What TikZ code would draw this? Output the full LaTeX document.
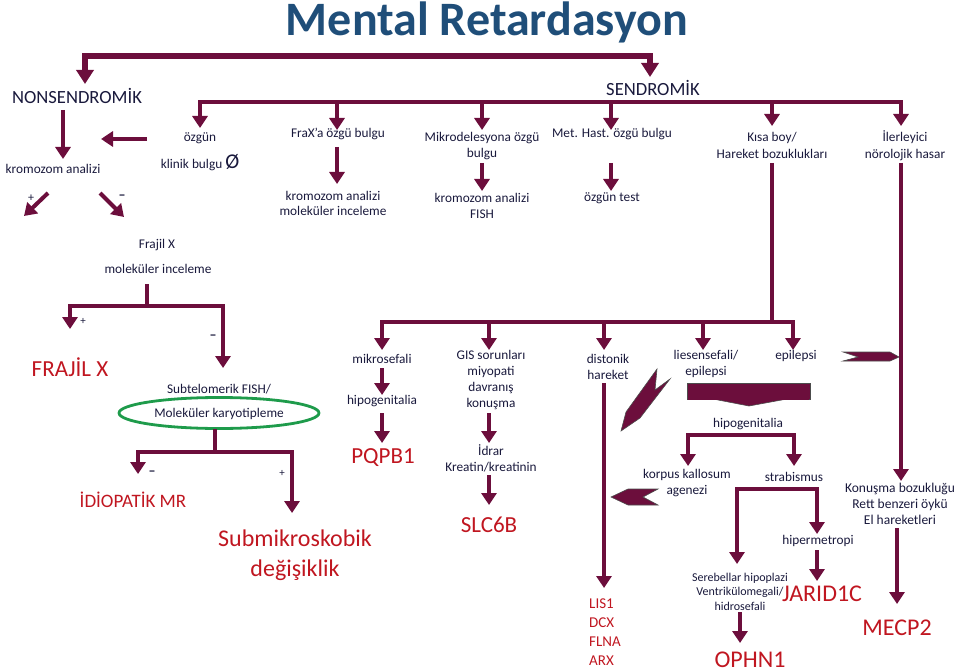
\documentclass[tikz,border=0pt]{standalone}
\usepackage{fontspec}
\setmainfont{Carlito}
\usetikzlibrary{arrows.meta,shapes.geometric}
\definecolor{arrc}{RGB}{108,14,60}
\definecolor{txtc}{RGB}{25,25,60}
\definecolor{genc}{RGB}{192,22,32}
\definecolor{ttlc}{RGB}{31,78,121}
\definecolor{ellc}{RGB}{30,155,75}
\tikzset{
  t/.style={font=\fontsize{13.3}{16}\selectfont, text=txtc, inner sep=0pt, align=center},
  tsm/.style={font=\fontsize{12}{14.5}\selectfont, text=txtc, inner sep=0pt, align=center},
  hd/.style={font=\fontsize{18.6}{20}\selectfont, text=txtc, inner sep=0pt},
  gen/.style={font=\fontsize{23}{30}\selectfont, text=genc, inner sep=0pt, align=center},
  sgn/.style={font=\fontsize{12}{12}\selectfont, text=txtc, inner sep=0pt},
  arr/.style={draw=arrc, line width=4.5pt, line join=miter, -{Triangle[width=15pt,length=12pt]}},
  ln/.style={draw=arrc, line width=4.5pt, line join=miter},
  bigarr/.style={draw=arrc, line width=5.5pt, line join=miter, -{Triangle[width=17pt,length=14pt]}},
  blk/.style={fill=arrc, draw=black!70, line width=0.6pt, line join=miter}
}
\begin{document}
\begin{tikzpicture}[x=1pt,y=-1pt]
\useasboundingbox (0,0) rectangle (960,671);
% ---------- title
\node[font=\fontsize{48}{52}\selectfont\bfseries, text=ttlc, inner sep=0pt] (title) at (487,22) {Mental Retardasyon};
% ---------- top bracket
\coordinate (T1) at (85,56); \coordinate (T2) at (650,56);
\coordinate (Tn) at (85,84); \coordinate (Ts) at (650,77);
\draw[bigarr] (T2) -- (T1) -- (Tn);
\draw[bigarr] (T1) -- (T2) -- (Ts);
\node[hd] (nons) at (77,96) {NONSENDROMİK};
\node[hd] (send) at (653,88) {SENDROMİK};
% ---------- second bracket
\coordinate (S0) at (200,102); \coordinate (S6) at (901,102);
\coordinate (S1) at (337,102); \coordinate (S2) at (482,102);
\coordinate (S3) at (611,102); \coordinate (S4) at (772,102);
\coordinate (E0) at (200,128); \coordinate (E1) at (337,130);
\coordinate (E2) at (482,130); \coordinate (E3) at (611,130);
\coordinate (E4) at (772,126); \coordinate (E6) at (901,126);
\draw[arr] (S6) -- (S0) -- (E0);
\draw[arr] (S0) -- (S6) -- (E6);
\draw[arr] (S1) -- (E1);
\draw[arr] (S2) -- (E2);
\draw[arr] (S3) -- (E3);
\draw[arr] (S4) -- (E4);
% ---------- row texts
\node[t] (ozgun) at (200,138) {özgün};
\node[t] (klinik) at (200,163) {klinik bulgu {\fontsize{21}{21}\selectfont Ø}};
\node[t] (frax) at (338,134) {FraX’a özgü bulgu};
\node[t] (mikro) at (482,146) {Mikrodelesyona özgü\\bulgu};
\node[t] (met) at (612,134) {Met. Hast. özgü bulgu};
\node[t, font=\fontsize{13.3}{17}\selectfont] (kisa) at (772,145.5) {Kısa boy/\\Hareket bozuklukları};
\node[t, font=\fontsize{13.3}{17}\selectfont] (iler) at (905,145.5) {İlerleyici\\nörolojik hasar};
\node[t] (krom1) at (53,169) {kromozom analizi};
% nonsendromik chain
\coordinate (n1) at (63,110); \coordinate (n2) at (63,159);
\draw[arr] (n1) -- (n2);
\coordinate (o1) at (147,139); \coordinate (o2) at (101,139);
\draw[arr] (o1) -- (o2);
\coordinate (d1a) at (48,193); \coordinate (d1b) at (24,216);
\coordinate (d2a) at (100,193); \coordinate (d2b) at (124,217);
\draw[arr, line width=4pt] (d1a) -- (d1b);
\draw[arr, line width=4pt] (d2a) -- (d2b);
\node[sgn] (p1) at (31,198) {+};
\node[sgn, font=\fontsize{14}{14}\selectfont\bfseries] (m1) at (122,197) {–};
\node[t] (frajil) at (157,245) {Frajil X};
\node[t] (molinc) at (158,269) {moleküler inceleme};
% syndromic column chains
\coordinate (f1) at (337,147); \coordinate (f2) at (337,184);
\draw[arr] (f1) -- (f2);
\node[t, font=\fontsize{13.3}{15}\selectfont] (krom2) at (333,203.5) {kromozom analizi\\moleküler inceleme};
\coordinate (mk1) at (482,163); \coordinate (mk2) at (482,191);
\draw[arr] (mk1) -- (mk2);
\node[t] (krom3) at (482,206) {kromozom analizi\\FISH};
\coordinate (mt1) at (611,163); \coordinate (mt2) at (611,191);
\draw[arr] (mt1) -- (mt2);
\node[t] (otest) at (612,198) {özgün test};
% ---------- fragile X bracket
\coordinate (fx0) at (147,284); \coordinate (fx1) at (147,306);
\coordinate (fxL) at (70,306); \coordinate (fxR) at (223,306);
\coordinate (fxLt) at (70,329); \coordinate (fxRt) at (223,368);
\draw[ln] (fx0) -- (fx1);
\draw[arr, line width=4pt] (fxR) -- (fxL) -- (fxLt);
\draw[arr, line width=4pt] (fxL) -- (fxR) -- (fxRt);
\node[sgn, font=\fontsize{11}{11}\selectfont] (p2) at (83,321) {+};
\node[sgn, font=\fontsize{14}{14}\selectfont\bfseries] (m2) at (213,337) {–};
\node[gen] (frajilx) at (70,367) {FRAJİL X};
\node[t] (subt) at (219,389) {Subtelomerik FISH/};
\node[draw=ellc, line width=2.8pt, ellipse, minimum width=200pt, minimum height=31pt, inner sep=0pt] (ell) at (219,413) {};
\node[t] (molk) at (219,414) {Moleküler karyotipleme};
\coordinate (k0) at (215,429); \coordinate (k1) at (215,452);
\coordinate (kL) at (138,452); \coordinate (kR) at (292,452);
\coordinate (kLt) at (138,474); \coordinate (kRt) at (292,513);
\draw[ln, line width=4pt] (k0) -- (k1);
\draw[arr, line width=4pt] (kR) -- (kL) -- (kLt);
\draw[arr, line width=4pt] (kL) -- (kR) -- (kRt);
\node[sgn, font=\fontsize{14}{14}\selectfont\bfseries] (m3) at (152,473) {–};
\node[sgn, font=\fontsize{11}{11}\selectfont] (p3) at (282,473) {+};
\node[gen, font=\fontsize{19}{22}\selectfont] (idio) at (133,500) {İDİOPATİK MR};
\node[gen, font=\fontsize{24}{30}\selectfont] (subm) at (295,555) {Submikroskobik\\değişiklik};
% ---------- lower bracket from Kısa boy
\coordinate (kb0) at (772,163); \coordinate (kb1) at (772,322);
\coordinate (B0) at (382,322); \coordinate (B1) at (489,322);
\coordinate (B2) at (604,322); \coordinate (B3) at (703,322);
\coordinate (B4) at (793,322);
\coordinate (Bt0) at (382,350); \coordinate (Bt1) at (489,350);
\coordinate (Bt2) at (604,350); \coordinate (Bt3) at (703,350);
\coordinate (Bt4) at (793,350);
\draw[ln] (kb0) -- (kb1);
\draw[arr] (B4) -- (B0) -- (Bt0);
\draw[arr] (B0) -- (B4) -- (Bt4);
\draw[arr] (B1) -- (Bt1);
\draw[arr] (B2) -- (Bt2);
\draw[arr] (B3) -- (Bt3);
% column 1
\node[t] (mikros) at (382,359) {mikrosefali};
\coordinate (c1a) at (382,368); \coordinate (c1b) at (382,395);
\draw[arr] (c1a) -- (c1b);
\node[t] (hipo1) at (382,401) {hipogenitalia};
\coordinate (c1c) at (382,413); \coordinate (c1d) at (382,443);
\draw[arr] (c1c) -- (c1d);
\node[gen] (pqpb) at (383,458) {PQPB1};
% column 2
\node[t] (gis) at (491,380) {GIS sorunları\\miyopati\\davranış\\konuşma};
\coordinate (c2a) at (489,413); \coordinate (c2b) at (489,443);
\draw[arr] (c2a) -- (c2b);
\node[t] (idrar) at (491,458) {İdrar\\Kreatin/kreatinin};
\coordinate (c2c) at (489,475); \coordinate (c2d) at (489,505);
\draw[arr] (c2c) -- (c2d);
\node[gen] (slc) at (489,525) {SLC6B};
% column 3
\node[t] (dist) at (608,367) {distonik\\hareket};
\coordinate (c3a) at (604,383); \coordinate (c3b) at (604,588);
\draw[arr] (c3a) -- (c3b);
\node[gen, font=\fontsize{15}{19}\selectfont, align=left, anchor=west] (lis) at (589,632) {LIS1\\DCX\\FLNA\\ARX};
% column 4
\node[t] (lies) at (706,364) {liesensefali/\\epilepsi};
\node[t] (epi) at (796,356) {epilepsi};
\draw[blk] (687,383) rectangle (810,399);
\draw[blk] (713,399) -- (787,399) -- (749,406) -- cycle;
\fill[arrc] (688,384) rectangle (809,399.5);
\node[t] (hipo2) at (748,424) {hipogenitalia};
\coordinate (h0) at (688,435); \coordinate (h1) at (794,435);
\coordinate (h0t) at (688,466); \coordinate (h1t) at (794,466);
\draw[arr] (h1) -- (h0) -- (h0t);
\draw[arr] (h0) -- (h1) -- (h1t);
\node[t] (korpus) at (687,483) {korpus kallosum\\agenezi};
\node[t] (strab) at (794,477) {strabismus};
% chevrons
\draw[blk] (611,497) -- (628,489) -- (658,489) -- (643,497) -- (658,505) -- (628,505) -- cycle;
\draw[blk] (843,352) -- (890,352) -- (899,357) -- (890,361) -- (843,361) -- (858,357) -- cycle;
\draw[blk] (621,431) -- (626,412) -- (657,369) -- (655,390) -- (670,379) -- (640,418) -- cycle;
% strabismus bracket
\coordinate (sb0) at (737,489); \coordinate (sb1) at (817,489);
\coordinate (sb0t) at (737,564); \coordinate (sb1t) at (817,534);
\draw[arr] (sb1) -- (sb0) -- (sb0t);
\draw[arr] (sb0) -- (sb1) -- (sb1t);
\node[t] (hiper) at (818,541) {hipermetropi};
\coordinate (hp0) at (817,550); \coordinate (hp1) at (817,581);
\draw[arr] (hp0) -- (hp1);
\node[gen, font=\fontsize{24}{30}\selectfont] (jarid) at (822,594) {JARID1C};
\node[tsm] (sereb) at (740,591.5) {Serebellar hipoplazi\\Ventrikülomegali/\\hidrosefali};
\coordinate (sr0) at (740,612); \coordinate (sr1) at (740,643);
\draw[arr] (sr0) -- (sr1);
\node[gen, font=\fontsize{24}{30}\selectfont] (ophn) at (750,660) {OPHN1};
% ---------- İlerleyici column
\coordinate (il0) at (901,163); \coordinate (il1) at (901,481);
\draw[arr] (il0) -- (il1);
\node[t, font=\fontsize{13.5}{16}\selectfont] (konus) at (900,504) {Konuşma bozukluğu\\Rett benzeri öykü\\El hareketleri};
\coordinate (me0) at (897,528); \coordinate (me1) at (897,604);
\draw[arr] (me0) -- (me1);
\node[gen, font=\fontsize{24}{30}\selectfont] (mecp) at (897,628) {MECP2};
\end{tikzpicture}
\end{document}
